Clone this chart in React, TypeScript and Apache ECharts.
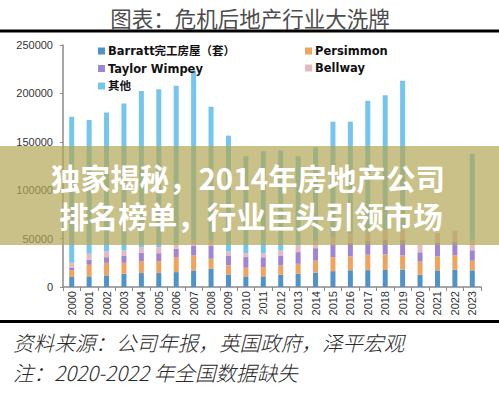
import React, { useEffect, useRef } from "react";
import * as echarts from "echarts";

const years = ["2000","2001","2002","2003","2004","2005","2006","2007","2008","2009","2010","2011","2012","2013","2014","2015","2016","2017","2018","2019","2020","2021","2022","2023"];
const barratt = [10300,11000,12000,13700,14400,14400,15400,17100,18900,13000,11000,11000,12700,13700,14800,16400,17300,17400,17600,17900,12600,17200,17900,17200];
const persimmon = [6900,12000,13000,11300,12300,12300,15400,15400,10300,9300,8900,9400,9600,10300,12500,14400,14400,16000,16000,14800,13600,14600,14900,9900];
const taylorWimpey = [2400,5100,5800,7500,8600,8200,8600,10300,13700,10300,11000,10300,10300,12000,12800,13300,14100,14500,14900,15700,9600,14100,14200,10800];
const bellway = [5500,6200,5800,5100,5800,6200,5500,5600,4800,4100,4100,4100,5100,6800,6800,7700,8700,9600,10300,10900,7500,9900,11200,10900];
const others = [150900,138200,143700,152000,161300,163300,162900,174800,138500,119700,100100,105400,103300,92300,97400,119000,116300,134900,139400,153700,0,0,0,88700];
const yTicks = [0, 50000, 100000, 150000, 200000, 250000];

const names = {
  barratt: "Barratt完工房屋（套）",
  persimmon: "Persimmon",
  tw: "Taylor Wimpey",
  bellway: "Bellway",
  other: "其他",
};

export default function App() {
  const ref = useRef<HTMLDivElement>(null);
  useEffect(() => {
    if (!ref.current) return;
    const chart = echarts.init(ref.current, null, { renderer: "svg" });
    const mk = (name: string, data: number[], color: string) => ({
      name,
      type: "bar",
      stack: "total",
      data,
      barWidth: 5,
      itemStyle: { color },
    });
    const legendText = {
      fontFamily: "DejaVu Sans, Noto Sans CJK SC",
      fontWeight: "bold",
      fontSize: 11.5,
      color: "#111",
      lineHeight: 14,
      padding: [0, 0, 0, -2],
    };
    chart.setOption({
      animation: false,
      backgroundColor: "#fff",
      grid: { left: 63, right: 18, top: 45, bottom: 106, containLabel: false },
      legend: [
        {
          orient: "vertical",
          left: 93,
          top: 39,
          itemWidth: 7,
          itemHeight: 7,
          itemGap: 3.5,
          icon: "rect",
          data: [names.barratt, names.tw, names.other],
          textStyle: legendText,
          selectedMode: false,
        },
        {
          orient: "vertical",
          left: 300,
          top: 39,
          itemWidth: 7,
          itemHeight: 7,
          itemGap: 3,
          icon: "rect",
          data: [names.persimmon, names.bellway],
          textStyle: legendText,
          selectedMode: false,
        },
      ],
      xAxis: {
        type: "category",
        data: years,
        boundaryGap: true,
        axisLine: { show: true, lineStyle: { color: "#8a8a8a", width: 1.5 } },
        axisTick: { show: true, alignWithLabel: false, length: 4, lineStyle: { color: "#8a8a8a" } },
        axisLabel: { rotate: 90, interval: 0, margin: 4, fontSize: 11, color: "#333", fontFamily: "Liberation Sans" },
      },
      yAxis: {
        type: "value",
        min: yTicks[0],
        max: yTicks[yTicks.length - 1],
        interval: yTicks[1] - yTicks[0],
        axisLine: { show: true, lineStyle: { color: "#8a8a8a", width: 1.5 } },
        axisTick: { show: true, length: 3, lineStyle: { color: "#8a8a8a" } },
        splitLine: { show: false },
        axisLabel: {
          margin: 10,
          fontSize: 11,
          color: "#333",
          fontFamily: "Liberation Sans",
          formatter: (v: number) => String(v),
        },
      },
      series: [
        mk(names.barratt, barratt, "#4f93c8"),
        mk(names.persimmon, persimmon, "#f0a35e"),
        mk(names.tw, taylorWimpey, "#9f85d4"),
        mk(names.bellway, bellway, "#e6b9c1"),
        mk(names.other, others, "#74c6ee"),
      ],
      graphic: [
        {
          type: "text",
          x: 250,
          y: 17,
          z: 100,
          style: {
            text: "图表：危机后地产行业大洗牌",
            fontSize: 21.5,
            fontFamily: "Noto Sans CJK SC",
            fill: "#4d4d4d",
            textAlign: "center",
            textVerticalAlign: "middle",
          },
        },
        { type: "line", z: 100, shape: { x1: 0, y1: 31, x2: 499, y2: 31 }, style: { stroke: "#000", lineWidth: 3 } },
        { type: "line", z: 100, shape: { x1: 0, y1: 321.5, x2: 499, y2: 321.5 }, style: { stroke: "#000", lineWidth: 3 } },
        {
          type: "text",
          x: 13,
          y: 342,
          z: 100,
          style: {
            text: "资料来源：公司年报，英国政府，泽平宏观",
            fontSize: 20.6,
            fontStyle: "italic",
            fontFamily: "Noto Sans CJK SC",
            fontWeight: 300,
            fill: "#2a2a2a",
            textVerticalAlign: "middle",
          },
        },
        {
          type: "text",
          x: 13,
          y: 372,
          z: 100,
          style: {
            text: "注：2020-2022 年全国数据缺失",
            fontSize: 20.6,
            fontStyle: "italic",
            fontFamily: "Noto Sans CJK SC",
            fontWeight: 300,
            fill: "#2a2a2a",
            textVerticalAlign: "middle",
          },
        },
        {
          type: "rect",
          z: 200,
          shape: { x: 0, y: 146, width: 499, height: 99 },
          style: { fill: "rgba(178,167,84,0.7)" },
        },
        {
          type: "text",
          x: 248,
          y: 177,
          z: 201,
          style: {
            text: "独家揭秘，2014年房地产公司",
            fontSize: 29.5,
            fontWeight: "bold",
            fontFamily: "Noto Sans CJK SC",
            fill: "#fff",
            textAlign: "center",
            textVerticalAlign: "middle",
          },
        },
        {
          type: "text",
          x: 251,
          y: 215,
          z: 201,
          style: {
            text: "排名榜单，行业巨头引领市场",
            fontSize: 29.5,
            fontWeight: "bold",
            fontFamily: "Noto Sans CJK SC",
            fill: "#fff",
            textAlign: "center",
            textVerticalAlign: "middle",
          },
        },
      ],
    });
    return () => chart.dispose();
  }, []);
  return (
    <div
      ref={ref}
      style={{ position: "fixed", left: 0, top: 0, width: 499, height: 393, background: "#fff" }}
    />
  );
}
